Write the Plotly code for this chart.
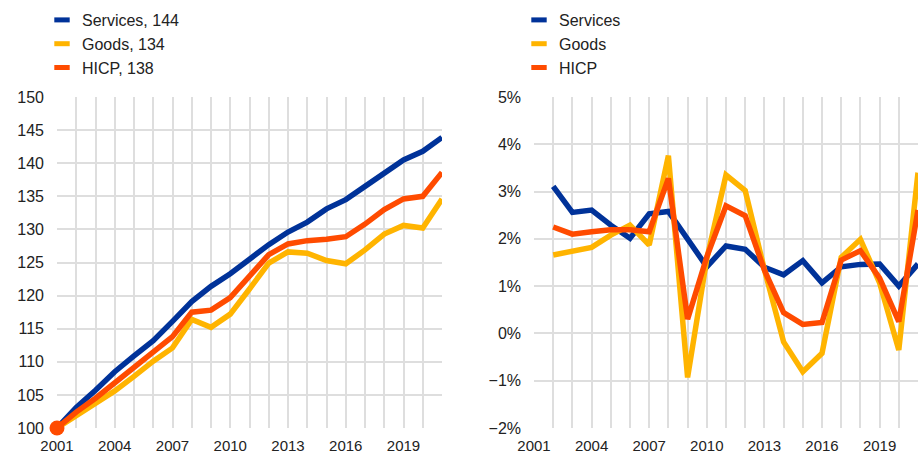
import plotly.graph_objects as go
from plotly.subplots import make_subplots

years = list(range(2001, 2022))

# Left panel: index, 2001 = 100
services_index = [100.0, 103.1, 105.7, 108.5, 110.9, 113.2, 116.1, 119.1, 121.4, 123.3,
                  125.5, 127.7, 129.6, 131.1, 133.1, 134.5, 136.5, 138.5, 140.5, 141.8, 143.9]
goods_index = [100.0, 101.9, 103.7, 105.6, 107.8, 110.1, 112.1, 116.4, 115.2, 117.2,
               121.0, 124.9, 126.6, 126.4, 125.3, 124.8, 126.9, 129.3, 130.6, 130.2, 134.6]
hicp_index = [100.0, 102.4, 104.5, 106.8, 109.2, 111.5, 113.8, 117.5, 117.8, 119.7,
              123.0, 126.2, 127.8, 128.3, 128.5, 128.9, 130.8, 133.0, 134.6, 135.0, 138.6]

# Right panel: annual % change
years_growth = list(range(2002, 2022))
services_growth = [3.11, 2.56, 2.61, 2.29, 2.01, 2.53, 2.58, 1.99, 1.41, 1.85,
                   1.78, 1.40, 1.24, 1.54, 1.07, 1.41, 1.46, 1.47, 1.00, 1.47]
goods_growth = [1.66, 1.75, 1.82, 2.08, 2.29, 1.87, 3.76, -0.93, 1.58, 3.35,
                3.02, 1.35, -0.18, -0.81, -0.42, 1.61, 1.99, 1.07, -0.35, 3.40]
hicp_growth = [2.25, 2.10, 2.15, 2.19, 2.19, 2.15, 3.28, 0.30, 1.62, 2.70,
               2.49, 1.34, 0.44, 0.19, 0.23, 1.55, 1.75, 1.17, 0.25, 2.61]

left_names = ["Services, 144", "Goods, 134", "HICP, 138"]
right_names = ["Services", "Goods", "HICP"]
colors = ["#003299", "#FFB400", "#FF4B00"]

x_labels = [str(y) if (y - 2001) % 3 == 0 else "" for y in years]

FONT = "Liberation Sans, Arial, sans-serif"
TXT = "#222222"
GRID = "#dedede"

W, H = 918, 453

fig = make_subplots(rows=1, cols=2)

left_series = [services_index, goods_index, hicp_index]
right_series = [services_growth, goods_growth, hicp_growth]

for vals, c in zip(left_series, colors):
    fig.add_trace(go.Scatter(x=years, y=vals, mode="lines", line=dict(color=c, width=5.5),
                             showlegend=False, hoverinfo="skip"), row=1, col=1)
fig.add_trace(go.Scatter(x=[years[0]], y=[hicp_index[0]], mode="markers",
                         marker=dict(color=colors[2], size=15), showlegend=False,
                         cliponaxis=False, hoverinfo="skip"), row=1, col=1)

for vals, c in zip(right_series, colors):
    fig.add_trace(go.Scatter(x=years_growth, y=vals, mode="lines", line=dict(color=c, width=5.5),
                             showlegend=False, hoverinfo="skip"), row=1, col=2)

# legend entries
for name, c in zip(left_names, colors):
    fig.add_trace(go.Scatter(x=[None], y=[None], mode="markers", name=name,
                             marker=dict(symbol="line-ew", size=11, color=c,
                                         line=dict(color=c, width=5)),
                             legend="legend"), row=1, col=1)
for name, c in zip(right_names, colors):
    fig.add_trace(go.Scatter(x=[None], y=[None], mode="markers", name=name,
                             marker=dict(symbol="line-ew", size=11, color=c,
                                         line=dict(color=c, width=5)),
                             legend="legend2"), row=1, col=2)

xaxis_common = dict(range=[2001, 2021], tickmode="array", tickvals=years, ticktext=x_labels,
                    showgrid=True, gridcolor=GRID, gridwidth=1.5, zeroline=False,
                    showline=False, ticks="", tickfont=dict(size=15, color=TXT),
                    ticklabelstandoff=7, automargin=False)
fig.update_xaxes(**xaxis_common)
fig.update_xaxes(domain=[57 / W, 442 / W], row=1, col=1)
fig.update_xaxes(domain=[534 / W, 1.0], row=1, col=2)

fig.update_yaxes(range=[100, 150], dtick=5, tick0=100, showgrid=True, gridcolor=GRID,
                 gridwidth=1.5, zeroline=False, showline=False, ticks="",
                 tickfont=dict(size=16, color=TXT), ticklabelstandoff=12, automargin=False,
                 row=1, col=1)
fig.update_yaxes(range=[-2, 5], dtick=1, tick0=0, ticksuffix="%", showgrid=True, gridcolor=GRID,
                 gridwidth=1.5, zeroline=False, showline=False, ticks="",
                 tickfont=dict(size=16, color=TXT), ticklabelstandoff=12, automargin=False,
                 row=1, col=2)

fig.update_layout(
    width=W, height=H,
    margin=dict(l=0, r=0, t=97, b=25),
    paper_bgcolor="white", plot_bgcolor="white",
    font=dict(family=FONT, color=TXT, size=16),
    legend=dict(x=42 / W, y=1 - 3 / H, xanchor="left", yanchor="top", xref="paper",
                yref="container", font=dict(size=16, color=TXT),
                bgcolor="rgba(0,0,0,0)", tracegroupgap=0),
    legend2=dict(x=519 / W, y=1 - 3 / H, xanchor="left", yanchor="top", xref="paper",
                 yref="container", font=dict(size=16, color=TXT),
                 bgcolor="rgba(0,0,0,0)", tracegroupgap=0),
)

fig.write_html(
    "out.html",
    config={"displayModeBar": False},
    post_script="document.body.style.margin='0';document.body.style.overflow='hidden';",
)
